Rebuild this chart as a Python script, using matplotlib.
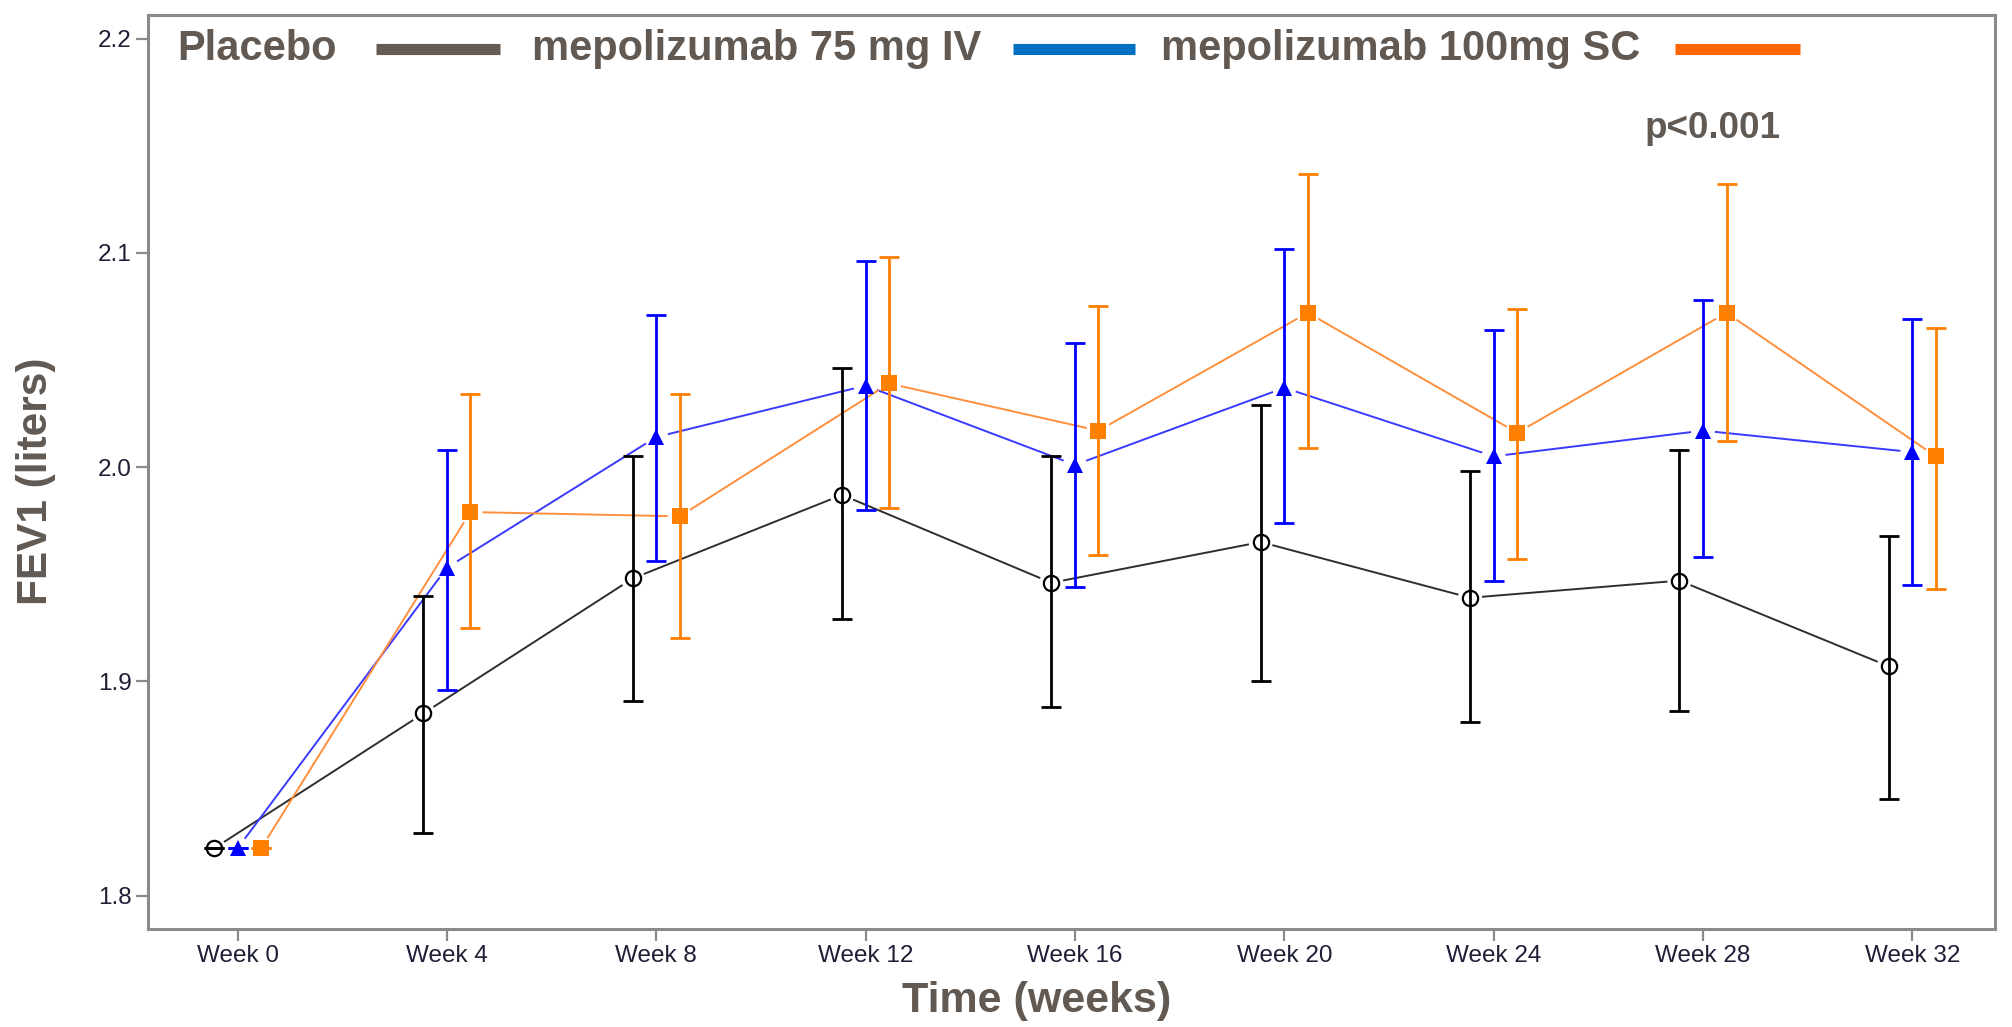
import numpy as np
import matplotlib
matplotlib.use("Agg")
import matplotlib.pyplot as plt
from matplotlib.lines import Line2D
from matplotlib import font_manager

# ---- data -------------------------------------------------------------
weeks = [0, 4, 8, 12, 16, 20, 24, 28, 32]
week_labels = ["Week 0", "Week 4", "Week 8", "Week 12", "Week 16",
               "Week 20", "Week 24", "Week 28", "Week 32"]

placebo_mean = [1.822, 1.885, 1.948, 1.987, 1.946, 1.965, 1.939, 1.947, 1.907]
placebo_lo   = [1.822, 1.829, 1.891, 1.929, 1.888, 1.900, 1.881, 1.886, 1.845]
placebo_hi   = [1.822, 1.940, 2.005, 2.046, 2.005, 2.029, 1.998, 2.008, 1.968]

iv_mean = [1.822, 1.953, 2.014, 2.038, 2.001, 2.037, 2.005, 2.017, 2.007]
iv_lo   = [1.822, 1.896, 1.956, 1.980, 1.944, 1.974, 1.947, 1.958, 1.945]
iv_hi   = [1.822, 2.008, 2.071, 2.096, 2.058, 2.102, 2.064, 2.078, 2.069]

sc_mean = [1.822, 1.979, 1.977, 2.039, 2.017, 2.072, 2.016, 2.072, 2.005]
sc_lo   = [1.822, 1.925, 1.920, 1.981, 1.959, 2.009, 1.957, 2.012, 1.943]
sc_hi   = [1.822, 2.034, 2.034, 2.098, 2.075, 2.137, 2.074, 2.132, 2.065]

y_ticks = [1.8, 1.9, 2.0, 2.1, 2.2]
y_tick_labels = ["1.8", "1.9", "2.0", "2.1", "2.2"]

legend_labels = ["Placebo", "mepolizumab 75 mg IV", "mepolizumab 100mg SC"]
annotation = "p<0.001"

# ---- styling ------------------------------------------------------------
W, H = 2012, 1027
DPI = 100
installed = {f.name for f in font_manager.fontManager.ttflist}
narrow = "Liberation Sans Narrow" if "Liberation Sans Narrow" in installed else "Liberation Sans"
FAM = [narrow, "DejaVu Sans"]
TEXT_GREY = "#615952"
FRAME = "#8a8a8a"
TICK_TEXT = "#1e1e36"

fig = plt.figure(figsize=(W / DPI, H / DPI), dpi=DPI)
fig.patch.set_facecolor("white")


def px_to_fig(x, y):
    return x / W, 1 - y / H


# axes frame in pixel units
ax_left, ax_right, ax_top, ax_bottom = 147.5, 1995, 15.4, 929
ax = fig.add_axes([ax_left / W, 1 - ax_bottom / H,
                   (ax_right - ax_left) / W, (ax_bottom - ax_top) / H])
ax.set_xlim(-1.72, 33.58)
ax.set_ylim(1.7844, 2.2108)

for sp in ax.spines.values():
    sp.set_color(FRAME)
    sp.set_linewidth(2.2)

ax.set_xticks(weeks)
ax.set_xticklabels(week_labels, fontsize=17.5, family=FAM, color=TICK_TEXT)
ax.set_yticks(y_ticks)
ax.set_yticklabels(y_tick_labels, fontsize=17.5, family=FAM, color=TICK_TEXT)
ax.tick_params(axis="both", direction="out", length=8.5, width=1.6, color=FRAME, pad=3)

series = [
    dict(mean=placebo_mean, lo=placebo_lo, hi=placebo_hi, offset=-0.45,
         color="black", line="#2e2e2e", marker="o", ms=11, mfc="none", mew=1.6),
    dict(mean=iv_mean, lo=iv_lo, hi=iv_hi, offset=0.0,
         color="#0000ff", line="#3a3aff", marker="^", ms=12, mfc="#0000ff", mew=0),
    dict(mean=sc_mean, lo=sc_lo, hi=sc_hi, offset=0.45,
         color="#ff7f00", line="#ff8f3c", marker="s", ms=11.5, mfc="#ff7f00", mew=0),
]

fig.canvas.draw()
to_px = ax.transData
from_px = ax.transData.inverted()
GAP = 12  # pixels left open between a connecting line and its markers

for s in series:
    xs = np.array(weeks, dtype=float) + s["offset"]
    ys = np.array(s["mean"], dtype=float)
    pts = to_px.transform(np.column_stack([xs, ys]))
    for a, b in zip(pts[:-1], pts[1:]):
        d = b - a
        n = np.hypot(*d)
        if n <= 2 * GAP:
            continue
        u = d / n
        seg = from_px.transform(np.vstack([a + u * GAP, b - u * GAP]))
        ax.plot(seg[:, 0], seg[:, 1], color=s["line"], lw=1.4, zorder=2,
                solid_capstyle="butt")
    lo = np.array(s["lo"]); hi = np.array(s["hi"])
    ax.errorbar(xs, ys, yerr=[ys - lo, hi - ys], fmt="none",
                ecolor=s["color"], elinewidth=2.0, capsize=7, capthick=2.0, zorder=3)
    ax.plot(xs, ys, linestyle="none", marker=s["marker"], ms=s["ms"],
            mfc=s["mfc"], mec=s["color"], mew=s["mew"], zorder=4)

# ---- legend row drawn along the top of the plot area ---------------------
leg_y = 49
text_kw = dict(fontsize=30, fontweight="bold", family=FAM, color=TEXT_GREY,
               va="center", ha="left")
legend_items = [
    (legend_labels[0], 177, (376, 500), "#635b54"),
    (legend_labels[1], 532, (1013, 1135), "#0070c0"),
    (legend_labels[2], 1161, (1675, 1800), "#ff6600"),
]
for label, tx, (lx0, lx1), col in legend_items:
    fig.text(*px_to_fig(tx, leg_y), label, **text_kw)
    x0, y0 = px_to_fig(lx0, leg_y)
    x1, _ = px_to_fig(lx1, leg_y)
    fig.add_artist(Line2D([x0, x1], [y0, y0], transform=fig.transFigure,
                          color=col, lw=8, solid_capstyle="butt"))

fig.text(*px_to_fig(1713, 128), annotation, fontsize=26.5, fontweight="bold",
         family=FAM, color=TEXT_GREY, ha="center", va="center")

fig.text(*px_to_fig(36, 481), "FEV1 (liters)", fontsize=30.5, fontweight="bold",
         family=FAM, color=TEXT_GREY, rotation=90, ha="center", va="center")
fig.text(*px_to_fig(1037, 1001), "Time (weeks)", fontsize=31, fontweight="bold",
         family=FAM, color=TEXT_GREY, ha="center", va="center")

fig.savefig("out.png", dpi=DPI, facecolor="white")
